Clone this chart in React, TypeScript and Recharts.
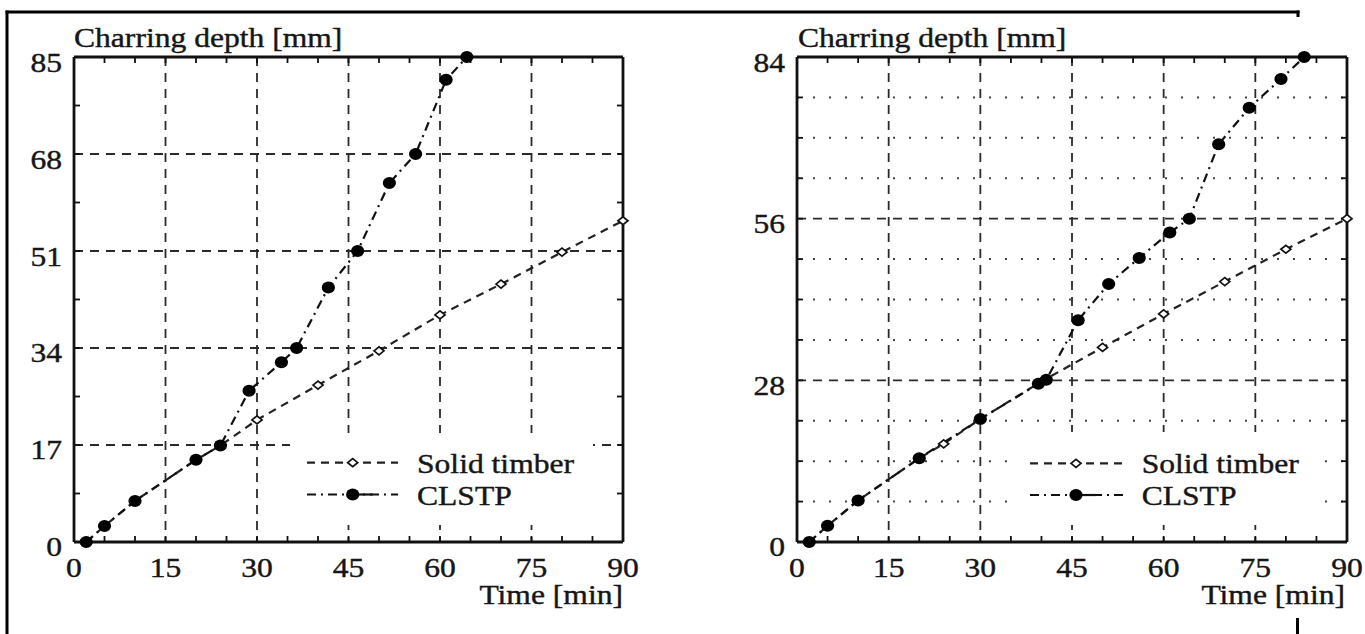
import React from 'react';
import { LineChart, Line, XAxis, YAxis, CartesianGrid, Legend } from 'recharts';

// ---------- data ----------
const seriesNames = ['Solid timber', 'CLSTP'];
const yTitle = 'Charring depth [mm]';
const xTitle = 'Time [min]';

const timeTicks = [0, 15, 30, 45, 60, 75, 90];
const timeMinorTicks = [5, 10, 15, 20, 25, 30, 35, 40, 45, 50, 55, 60, 65, 70, 75, 80, 85];

const leftDepthTicks = [0, 17, 34, 51, 68, 85];
const leftDepthMinorTicks = [8.5, 17, 25.5, 34, 42.5, 51, 59.5, 68, 76.5];
const rightDepthTicks = [0, 28, 56, 84];
const rightDepthMinorTicks = [7, 14, 21, 28, 35, 42, 49, 56, 63, 70, 77];
const rightDottedRows = [7, 14, 21, 35, 42, 49, 63, 70, 77];

const leftSolidTime = [2, 5, 10, 20, 24, 30, 40, 50, 60, 70, 80, 90];
const leftSolidDepth = [0, 2.8, 7.2, 14.4, 16.9, 21.4, 27.5, 33.5, 39.8, 45.2, 50.8, 56.3];
const leftClstpTime = [2, 5, 10, 20, 24, 28.7, 34, 36.5, 41.7, 46.5, 51.7, 56, 61, 64.4];
const leftClstpDepth = [0, 2.8, 7.2, 14.4, 16.9, 26.5, 31.5, 34, 44.6, 51, 62.9, 68, 81, 85];

const rightSolidTime = [2, 5, 10, 20, 24, 30, 40, 50, 60, 70, 80, 90];
const rightSolidDepth = [0, 2.8, 7.2, 14.5, 17, 21.3, 27.8, 33.7, 39.5, 45.1, 50.7, 56];
const rightClstpTime = [2, 5, 10, 20, 30, 39.5, 40.8, 46, 51, 56, 61, 64.2, 69, 74, 79.2, 83];
const rightClstpDepth = [0, 2.8, 7.2, 14.5, 21.3, 27.4, 28.1, 38.4, 44.7, 49.2, 53.6, 56, 68.9, 75.2, 80.2, 84];

const toPoints = (ts: number[], ds: number[]) => ts.map((t, i) => ({ t, d: ds[i] }));

// ---------- styles ----------
const FONT = '"Liberation Serif", "Times New Roman", serif';
const FS = 27;
const SX = 1.17;
const INK = '#161616';
const THIN = 0.01;
const CHART_H = 634;
const TIME_MAX = 90;
const TICK = 6;
const SOLID_DASH = '8 6';
const CLSTP_DASH = '9 5 2 5';

function ScaledText({ x, y, anchor, children }: { x: number; y: number; anchor: string; children: any }) {
  return (
    <text
      transform={`translate(${x},${y}) scale(${SX},1)`}
      textAnchor={anchor as any}
      fontFamily={FONT}
      fontSize={FS}
      fill={INK}
      stroke={INK}
      strokeWidth={0.4}
    >
      {children}
    </text>
  );
}

const xLabelTick = (p: any) => (
  <ScaledText x={p.x} y={p.y + 35} anchor="middle">{String(p.payload.value)}</ScaledText>
);
const yLabelTick = (p: any) => (
  <ScaledText x={p.x - 12} y={p.y + 14.5} anchor="end">{String(p.payload.value)}</ScaledText>
);

// inward tick mark drawn as a "dot" of an axis-mark series (position from the library's scales)
const markDot = (dx: number, dy: number) => (p: any) => {
  if (p.cx == null || p.cy == null) return <g key={p.key} />;
  return (
    <line
      key={p.key}
      x1={p.cx}
      y1={p.cy}
      x2={p.cx + dx}
      y2={p.cy + dy}
      stroke="#111"
      strokeWidth={1.8}
    />
  );
};
const upMark = markDot(0, -TICK);
const downMark = markDot(0, TICK);
const rightwardMark = markDot(TICK, 0);
const leftwardMark = markDot(-TICK, 0);

const DiamondDot = (p: any) => {
  if (p.cx == null || p.cy == null) return <g key={p.key} />;
  const { cx, cy } = p;
  return (
    <path
      key={p.key}
      d={`M${cx - 5},${cy} L${cx},${cy - 4} L${cx + 5},${cy} L${cx},${cy + 4} Z`}
      fill="#fff"
      stroke="#111"
      strokeWidth={1.7}
    />
  );
};
const CircleDot = (p: any) => {
  if (p.cx == null || p.cy == null) return <g key={p.key} />;
  return <ellipse key={p.key} cx={p.cx} cy={p.cy} rx={6.6} ry={6} fill="#000" />;
};

const axisLineStyle = { stroke: '#111', strokeWidth: 2.8 };

type LegendGeom = {
  left: number; top: number; w: number; h: number;
  sx1: number; sx2: number; mx: number; tx: number; r1: number; r2: number;
};

function LegendBox({ g }: { g: LegendGeom }) {
  return (
    <svg width={g.w} height={g.h} style={{ display: 'block' }}>
      <line x1={g.sx1} y1={g.r1} x2={g.sx2} y2={g.r1} stroke="#222" strokeWidth={2.2} strokeDasharray={SOLID_DASH} />
      <DiamondDot cx={g.mx} cy={g.r1} />
      <ScaledText x={g.tx} y={g.r1 + 10} anchor="start">{seriesNames[0]}</ScaledText>
      <line x1={g.sx1} y1={g.r2} x2={g.sx2} y2={g.r2} stroke="#111" strokeWidth={2.2} strokeDasharray={CLSTP_DASH} />
      <line x1={g.mx} y1={g.r2} x2={g.mx + 20} y2={g.r2} stroke="#111" strokeWidth={2.2} />
      <CircleDot cx={g.mx} cy={g.r2} />
      <ScaledText x={g.tx} y={g.r2 + 10} anchor="start">{seriesNames[1]}</ScaledText>
    </svg>
  );
}

type PanelProps = {
  left: number;
  width: number;
  margin: { top: number; right: number; bottom: number; left: number };
  depthMax: number;
  depthTicks: number[];
  depthMinorTicks: number[];
  dottedRows?: number[];
  solid: { t: number; d: number }[];
  clstp: { t: number; d: number }[];
  legend: LegendGeom;
};

function Panel(props: PanelProps) {
  const { left, width, margin, depthMax, depthTicks, depthMinorTicks, dottedRows, solid, clstp, legend } = props;
  const yDomain = [0, depthMax];
  const bottomMarks = timeMinorTicks.map((t) => ({ t, d: 0 }));
  const topMarks = timeMinorTicks.map((t) => ({ t, d: depthMax }));
  const leftMarks = depthMinorTicks.map((d) => ({ t: 0, d }));
  const rightMarks = depthMinorTicks.map((d) => ({ t: TIME_MAX, d }));
  return (
    <div style={{ position: 'absolute', left, top: 0 }}>
      <LineChart width={width} height={CHART_H} margin={margin}>
        <CartesianGrid
          stroke="#2a2a2a" strokeWidth={1.8} strokeDasharray="9 7"
          verticalValues={timeTicks} horizontalValues={depthTicks}
        />
        {dottedRows ? (
          <CartesianGrid
            vertical={false} horizontalValues={dottedRows}
            stroke="#444" strokeWidth={2} strokeDasharray="2 14"
          />
        ) : null}
        <XAxis
          xAxisId={0} type="number" dataKey="t" domain={[0, TIME_MAX]} ticks={timeTicks} interval={0}
          height={THIN} tickSize={0} tickMargin={0} axisLine={axisLineStyle} tickLine={false} tick={xLabelTick}
        />
        <XAxis
          xAxisId="xtop" orientation="top" type="number" domain={[0, TIME_MAX]} allowDataOverflow
          height={THIN} tickSize={0} tickMargin={0} axisLine={axisLineStyle} tickLine={false} tick={false}
        />
        <YAxis
          yAxisId={0} type="number" domain={yDomain} ticks={depthTicks} interval={0}
          width={THIN} tickSize={0} tickMargin={0} axisLine={axisLineStyle} tickLine={false} tick={yLabelTick}
        />
        <YAxis
          yAxisId="yright" orientation="right" type="number" domain={yDomain} allowDataOverflow
          width={THIN} tickSize={0} tickMargin={0} axisLine={axisLineStyle} tickLine={false} tick={false}
        />
        <Legend
          layout="vertical"
          align="center"
          verticalAlign="middle"
          wrapperStyle={{ left: legend.left, top: legend.top, width: legend.w, height: legend.h, background: '#fff', margin: 0, padding: 0, lineHeight: 0 }}
          content={() => <LegendBox g={legend} />}
        />
        <Line
          name="bottom ticks" data={bottomMarks} dataKey="d" stroke="none" strokeWidth={0}
          dot={upMark} activeDot={false} legendType="none" isAnimationActive={false}
        />
        <Line
          name="top ticks" data={topMarks} dataKey="d" stroke="none" strokeWidth={0}
          dot={downMark} activeDot={false} legendType="none" isAnimationActive={false}
        />
        <Line
          name="left ticks" data={leftMarks} dataKey="d" stroke="none" strokeWidth={0}
          dot={rightwardMark} activeDot={false} legendType="none" isAnimationActive={false}
        />
        <Line
          name="right ticks" data={rightMarks} dataKey="d" stroke="none" strokeWidth={0}
          dot={leftwardMark} activeDot={false} legendType="none" isAnimationActive={false}
        />
        <Line
          name={seriesNames[0]} data={solid} dataKey="d" stroke="#222" strokeWidth={2.2}
          strokeDasharray={SOLID_DASH} dot={DiamondDot} activeDot={false} isAnimationActive={false}
        />
        <Line
          name={seriesNames[1]} data={clstp} dataKey="d" stroke="#111" strokeWidth={2.2}
          strokeDasharray={CLSTP_DASH} dot={CircleDot} activeDot={false} isAnimationActive={false}
        />
      </LineChart>
    </div>
  );
}

export default function App() {
  return (
    <div style={{ position: 'absolute', left: 0, top: 0, width: 1365, height: 634, background: '#fff', overflow: 'hidden' }}>
      <Panel
        left={0}
        width={700}
        margin={{ top: 57, right: 77, bottom: 92, left: 74 }}
        depthMax={85}
        depthTicks={leftDepthTicks}
        depthMinorTicks={leftDepthMinorTicks}
        solid={toPoints(leftSolidTime, leftSolidDepth)}
        clstp={toPoints(leftClstpTime, leftClstpDepth)}
        legend={{ left: 290, top: 433, w: 303, h: 92, sx1: 17, sx2: 108, mx: 62.7, tx: 127, r1: 29.7, r2: 61.5 }}
      />
      <Panel
        left={700}
        width={665}
        margin={{ top: 57, right: 18, bottom: 92, left: 97 }}
        depthMax={84}
        depthTicks={rightDepthTicks}
        depthMinorTicks={rightDepthMinorTicks}
        dottedRows={rightDottedRows}
        solid={toPoints(rightSolidTime, rightSolidDepth)}
        clstp={toPoints(rightClstpTime, rightClstpDepth)}
        legend={{ left: 307, top: 432, w: 313, h: 93, sx1: 23, sx2: 116, mx: 69, tx: 134.7, r1: 31.3, r2: 63 }}
      />
      <svg width={1365} height={634} style={{ position: 'absolute', left: 0, top: 0, pointerEvents: 'none' }}>
        <line x1={7} y1={10.5} x2={7} y2={634} stroke="#000" strokeWidth={3} />
        <line x1={5.5} y1={12} x2={1299.5} y2={12} stroke="#000" strokeWidth={3} />
        <line x1={1298} y1={10.5} x2={1298} y2={17} stroke="#000" strokeWidth={3} />
        <line x1={1297.5} y1={618} x2={1297.5} y2={634} stroke="#000" strokeWidth={3} />
        <ScaledText x={74} y={47} anchor="start">{yTitle}</ScaledText>
        <ScaledText x={798} y={47} anchor="start">{yTitle}</ScaledText>
        <ScaledText x={623} y={604} anchor="end">{xTitle}</ScaledText>
        <ScaledText x={1345} y={604} anchor="end">{xTitle}</ScaledText>
      </svg>
    </div>
  );
}
